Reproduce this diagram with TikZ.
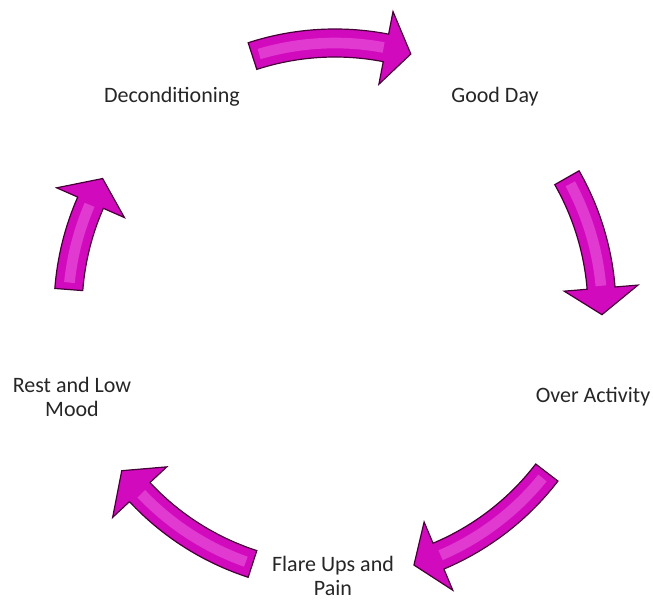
\documentclass[tikz,border=0pt]{standalone}
\usepackage{fontspec}
\setmainfont{Carlito}
\definecolor{cyclepink}{RGB}{210,10,190}
\definecolor{cycleshine}{RGB}{234,90,220}
\definecolor{cycleedge}{RGB}{70,0,55}
\tikzset{
  arrowbody/.style={fill=cyclepink, draw=cycleedge, line width=0.9pt, line join=miter},
  arrowshine/.style={draw=cycleshine, line width=8pt, opacity=0.6},
  label/.style={font=\fontsize{16.5}{18.5}\selectfont, align=center, text=black!85}
}
% tail angle, head base angle, tip angle
\newcommand\cyclearrow[3]{%
  \filldraw[arrowbody]
    (#1:281) arc[start angle=#1, end angle=#2, radius=281]
    -- (#2:304) -- (#3:267) -- (#2:230)
    -- (#2:253) arc[start angle=#2, end angle=#1, radius=253] -- cycle;
  \draw[arrowshine] (#1-1.5:267) arc[start angle=#1-1.5, end angle=#2+0.5, radius=267];
}
\begin{document}
\begin{tikzpicture}[x=0.75pt,y=0.75pt]
  \useasboundingbox (-335,-291) rectangle (318,310);
  \node[label, anchor=base] (decond) at (-163,208) {Deconditioning};
  \node[label, anchor=base] (goodday) at (160,208) {Good Day};
  \node[label, anchor=base] (overact) at (258,-92) {Over Activity};
  \node[label] (flareup) at (-2,-266) {Flare Ups and\\Pain};
  \node[label] (restlow) at (-263,-87) {Rest and Low\\Mood};
  \cyclearrow{108}{79}{73.5}
  \cyclearrow{29.7}{4.7}{-1}
  \cyclearrow{-37.5}{-67.2}{-72.8}
  \cyclearrow{-108}{-137}{-143}
  \cyclearrow{175.6}{156.3}{150.5}
\end{tikzpicture}
\end{document}
